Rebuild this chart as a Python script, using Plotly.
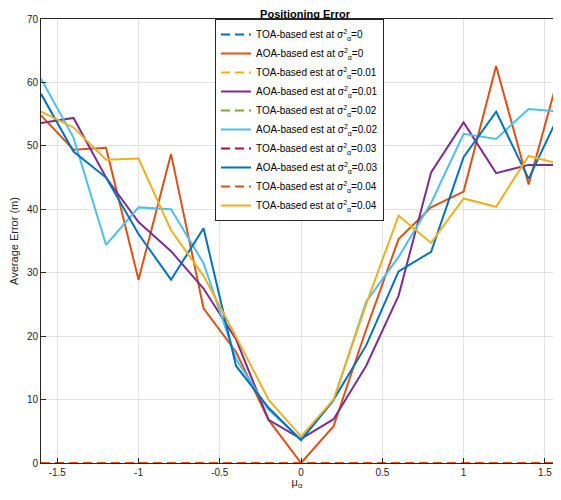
import plotly.graph_objects as go

mu = [-1.6, -1.4, -1.2, -1.0, -0.8, -0.6, -0.4, -0.2, 0.0, 0.2, 0.4, 0.6, 0.8, 1.0, 1.2, 1.4, 1.6]

toa_0 = [0.0] * 17
aoa_0 = [54.8, 49.4, 49.7, 28.9, 48.7, 24.4, 17.5, 6.8, 0.0, 5.8, 21.0, 35.3, 40.3, 42.8, 62.6, 43.9, 62.5]
toa_001 = [0.0] * 17
aoa_001 = [53.6, 54.4, 45.0, 38.0, 33.4, 27.5, 19.5, 6.8, 3.8, 6.9, 15.3, 26.4, 45.8, 53.7, 45.7, 47.0, 47.0]
toa_002 = [0.0] * 17
aoa_002 = [60.6, 51.3, 34.4, 40.3, 40.0, 31.5, 16.4, 8.4, 3.7, 9.8, 25.4, 32.5, 41.0, 51.9, 51.1, 55.8, 55.4]
toa_003 = [0.0] * 17
aoa_003 = [58.2, 49.1, 45.0, 36.1, 28.9, 37.0, 15.3, 8.7, 3.6, 10.0, 18.5, 30.2, 33.3, 48.2, 55.4, 44.8, 55.6]
toa_004 = [0.0] * 17
toa_004_solid = [55.4, 52.9, 47.8, 48.0, 36.7, 29.5, 19.9, 10.0, 4.2, 10.0, 25.0, 39.0, 34.7, 41.7, 40.4, 48.4, 47.1]

sig = "σ<sup>2</sup><sub>α</sub>"
series = [
    ("TOA-based est at " + sig + "=0", toa_0, "#0072BD", True),
    ("AOA-based est at " + sig + "=0", aoa_0, "#D95319", False),
    ("TOA-based est at " + sig + "=0.01", toa_001, "#EDB120", True),
    ("AOA-based est at " + sig + "=0.01", aoa_001, "#7E2F8E", False),
    ("TOA-based est at " + sig + "=0.02", toa_002, "#77AC30", True),
    ("AOA-based est at " + sig + "=0.02", aoa_002, "#4DBEEE", False),
    ("TOA-based est at " + sig + "=0.03", toa_003, "#A2142F", True),
    ("AOA-based est at " + sig + "=0.03", aoa_003, "#0072BD", False),
    ("TOA-based est at " + sig + "=0.04", toa_004, "#D95319", True),
    ("TOA-based est at " + sig + "=0.04", toa_004_solid, "#EDB120", False),
]

x_ticks = [-1.5, -1, -0.5, 0, 0.5, 1, 1.5]
x_ticklabels = ["-1.5", "-1", "-0.5", "0", "0.5", "1", "1.5"]
y_ticks = [0, 10, 20, 30, 40, 50, 60, 70]

fig = go.Figure()
for name, vals, color, dashed in series:
    fig.add_trace(go.Scatter(
        x=mu, y=vals, mode="lines", name=name,
        line=dict(color=color, width=2, dash="9px,5px" if dashed else "solid"),
    ))

# the page has an 8px body margin; keep the figure inside the visible area
W, H = 545, 482
PW = W - 33
font_family = "Liberation Sans, Arial, Helvetica, sans-serif"
fig.update_layout(
    width=W, height=H,
    margin=dict(l=33, r=0, t=11, b=27, autoexpand=False),
    paper_bgcolor="white", plot_bgcolor="white",
    font=dict(family=font_family, size=10, color="#262626"),
    title=dict(text="<b>Positioning Error</b>", x=(297 - 33) / PW, xref="paper",
               y=1, yref="container", xanchor="center", yanchor="top",
               pad=dict(t=2), font=dict(size=11, color="black")),
    showlegend=True,
    legend=dict(x=(207 - 33) / PW, y=1, xanchor="left", yanchor="top",
                bgcolor="white", bordercolor="#262626", borderwidth=1,
                font=dict(size=10, color="black"), tracegroupgap=0),
    xaxis=dict(range=[-1.6, 1.55], tickvals=x_ticks, ticktext=x_ticklabels,
               ticklabeloverflow="allow",
               showgrid=True, gridcolor="#e3e3e3", zeroline=False,
               showline=True, linecolor="#262626", linewidth=1, mirror=True,
               ticks="inside", ticklen=5, tickcolor="#262626",
               title=dict(text="μ<sub>α</sub>", standoff=6, font=dict(size=11))),
    yaxis=dict(range=[0, 70], tickvals=y_ticks,
               showgrid=True, gridcolor="#e3e3e3", zeroline=False,
               showline=True, linecolor="#262626", linewidth=1, mirror=False,
               ticks="inside", ticklen=5, tickcolor="#262626",
               title=dict(text="Average Error (m)", standoff=6, font=dict(size=11))),
)

fig.write_html("out.html")
